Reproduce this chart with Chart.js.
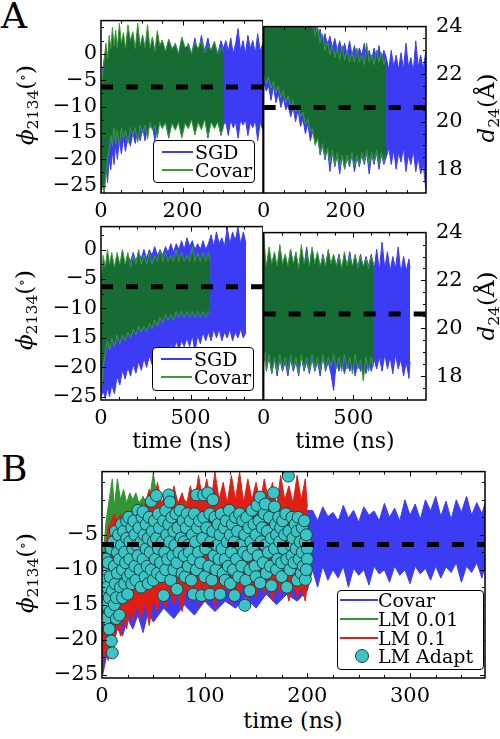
<!DOCTYPE html>
<html>
<head>
<meta charset="utf-8">
<script src="https://cdn.jsdelivr.net/npm/chart.js@4.4.1/dist/chart.umd.min.js"></script>
<style>
    html, body { margin: 0; padding: 0; background: #fff; }
    #fig { position: relative; width: 500px; height: 739px; overflow: hidden; font-family: "DejaVu Serif", serif; color: #000; }
    #fig canvas { position: absolute; }
    .lbl { position: absolute; white-space: nowrap; line-height: 1; }
    .rot { transform: translate(-50%, -50%) rotate(-90deg); }
    .ctr { transform: translate(-50%, -50%); }
    .lbl sub { font-size: 0.68em; vertical-align: -0.3em; }
    .lbl sup { font-size: 0.6em; vertical-align: 0.45em; }
    .legend { position: absolute; background: #fff; border: 1.5px solid #000; border-radius: 4px; box-sizing: border-box; }
    .smp { position: absolute; height: 2px; margin-top: -1px; }
    .ltxt { position: absolute; transform: translateY(-50%); line-height: 1; font-size: 19px; white-space: nowrap; }
    .dot { position: absolute; width: 12px; height: 12px; margin: -7px 0 0 -7px; border-radius: 50%; background: rgb(60,195,195); border: 1px solid rgb(20,70,70); }
</style>
</head>
<body>
<div id="fig">
    <canvas id="atl" width="223" height="219" style="left:40px;top:4px"></canvas>
    <canvas id="atr" width="235" height="219" style="left:251px;top:4px"></canvas>
    <canvas id="abl" width="223" height="220" style="left:40px;top:210px"></canvas>
    <canvas id="abr" width="235" height="220" style="left:251px;top:210px"></canvas>
    <canvas id="bpan" width="455" height="253" style="left:40px;top:455px"></canvas>

    <div class="lbl" style="left:1px;top:-2px;font-size:36px">A</div>
    <div class="lbl" style="left:1px;top:451px;font-size:36px">B</div>

    <div class="lbl rot" style="left:27px;top:105px;font-size:23px"><i>ϕ</i><sub>2134</sub>(<sup>∘</sup>)</div>
    <div class="lbl rot" style="left:26px;top:310px;font-size:23px"><i>ϕ</i><sub>2134</sub>(<sup>∘</sup>)</div>
    <div class="lbl rot" style="left:27px;top:573px;font-size:23px"><i>ϕ</i><sub>2134</sub>(<sup>∘</sup>)</div>
    <div class="lbl rot" style="left:488px;top:108px;font-size:23px"><i>d</i><sub>24</sub>(Å)</div>
    <div class="lbl rot" style="left:488px;top:306px;font-size:23px"><i>d</i><sub>24</sub>(Å)</div>

    <div class="lbl ctr" style="left:182px;top:441px;font-size:22px">time (ns)</div>
    <div class="lbl ctr" style="left:345px;top:441px;font-size:22px">time (ns)</div>
    <div class="lbl ctr" style="left:293px;top:721px;font-size:22px">time (ns)</div>

    <div class="legend" style="left:153px;top:140px;width:102px;height:43px">
        <div class="smp" style="left:8px;top:10.5px;width:31px;background:rgb(60,60,245)"></div>
        <span class="ltxt" style="left:41px;top:10.5px">SGD</span>
        <div class="smp" style="left:8px;top:29px;width:31px;background:rgb(60,155,55)"></div>
        <span class="ltxt" style="left:41px;top:29px">Covar</span>
    </div>
    <div class="legend" style="left:152px;top:347px;width:102px;height:44px">
        <div class="smp" style="left:8px;top:10.5px;width:31px;background:rgb(60,60,245)"></div>
        <span class="ltxt" style="left:41px;top:10.5px">SGD</span>
        <div class="smp" style="left:8px;top:29px;width:31px;background:rgb(60,155,55)"></div>
        <span class="ltxt" style="left:41px;top:29px">Covar</span>
    </div>
    <div class="legend" style="left:337px;top:590px;width:147px;height:80px">
        <div class="smp" style="left:2px;top:9px;width:38px;background:rgb(60,60,245)"></div>
        <span class="ltxt" style="left:40px;top:9px">Covar</span>
        <div class="smp" style="left:2px;top:28px;width:38px;background:rgb(50,150,50)"></div>
        <span class="ltxt" style="left:40px;top:28px">LM 0.01</span>
        <div class="smp" style="left:2px;top:46.5px;width:38px;background:rgb(225,30,20)"></div>
        <span class="ltxt" style="left:40px;top:46.5px">LM 0.1</span>
        <div class="dot" style="left:23.5px;top:64.5px"></div>
        <span class="ltxt" style="left:40px;top:64.5px">LM Adapt</span>
    </div>
</div>
<script>
// ---- panel A, top left: phi vs time ----
const atlCovarTime = [0,4,8,12,16,20,24,28,32,36,40,45,50,55,60,66,72,78,84,90,96,102,108,114,120,126,132,138,144,150,158,166,174,182,190,198,206,214,222,230,238,246,254,262,270,278,286,294,300];
const atlCovarHi = [-12,-4,-1,2,-1,3.5,1,5,1.5,4.5,1, 5.8,2,4,1, 5.5,2.5,4.2,1,5.8,1.5,3.6,1.2,5.5,1,3.2,0.5,4.4,1.6,2.6, 0.5,2.8,1,1.8,0,3.2,1.2,1.6,0,2.2,1,2.6,0.2,1.4,0.8,2.4,0,1.2,0.5];
const atlCovarLo = [-26.5,-25,-26.5,-23,-20,-18,-15.5,-17.5,-14,-17,-14.5, -17.5,-14,-16,-14.5, -17,-14,-15.5,-14,-16.8,-13.5,-15,-13.5,-16.2,-13,-14.5,-13.5,-16,-13,-14.2, -13,-15.8,-13.2,-14.5,-13,-16,-13.2,-14.2,-12.5,-15.4,-13,-14.4,-12.5,-15.6,-13,-14.2,-13,-15.2,-14];
const atlSgdTime = [0,4,8,12,16,20,24,28,32,36,40,45,50,55,60,66,72,78,84,90,96,102,108,114,120,126,132,138,144,150,158,166,174,182,190,198,206,214,222,230,238,246,254,262,270,278,286,294,300,306,312,318,324,330,336,342,348,354,360,366,372,378,384,390,397];
const atlSgdHi = [-7,-3,-1,1,-1,2,0,3,0.5,3,0, 3.5,1,3,0.5, 4,1,3,0.5,4,1,3,0.5,3.5,0.5,3,0,3,0.5,2.5, 0,2.5,0,2,0,2.5,0,2,0,3,0,3.5,0.5,3,0,2,0,2.5,1, 2.5,0.5,3,0,2,4.8,0.5,2.5,0,3.5,1,2.5,0,3.8,0.5,2];
const atlSgdLo = [-24,-22,-25.5,-21,-24.5,-20,-22,-18.5,-21,-17,-20, -16.5,-19,-16,-18.5, -15.5,-17.5,-15,-17,-14.5,-16.5,-14,-16.5,-13.5,-14,-13.5,-16.5,-13.5,-13,-14, -13,-16,-12.5,-13.5,-12.5,-15.5,-12.5,-13,-12,-14.5,-12.5,-13,-12,-16,-12.5,-13,-12.5,-15.5,-13.5, -13,-15.5,-12.5,-14,-13,-16,-12.5,-13.5,-12.5,-15.5,-13,-14,-12.5,-16.5,-13,-14.5];
const atlMean = -6.3;

// ---- panel A, top right: d24 vs time ----
const atrCovarTime = [0,6,12,18,24,30,36,42,48,54,60,66,72,78,84,90,96,102,108,114,120,126,132,138,144,150,156,162,168,174,180,186,192,198,204,210,216,222,228,234,240,246,252,258,264,270,276,282,288,294,300];
const atrCovarHi = [24.5,24.5,24.5,24.5,24.5,24.5,24.5,24.5,24.5,24.5,24.5,24.5,24.5,24.5,24.5,24.5,24.5,24.5,24.5,24.5, 24.2,23.6,24.0,23.3,23.7,23.0,23.4,22.8,23.2,22.7,23.1,22.6,23.2,22.6,23.0,22.5,22.9,22.5,23.1,22.5,22.8,22.4,23.3,22.5,22.8,22.4,23.0,22.5,22.9,22.4,22.7];
const atrCovarLo = [22.0,21.6,21.9,21.4,21.7,21.2,21.5,21.0,21.3,20.8,21.1,20.6,20.9,20.4,20.7,20.2,20.4,19.9,20.1,19.6, 19.7,19.0,19.3,18.7,19.1,18.5,18.9,18.3,18.8,18.2,18.7,18.1,18.6,18.0,18.6,18.2,18.7,18.1,18.6,18.2,18.7,18.3,18.8,18.2,18.7,18.3,18.8,18.2,18.7,18.3,18.6];
const atrSgdTime = [0,6,12,18,24,30,36,42,48,54,60,66,72,78,84,90,96,102,108,114,120,126,132,138,144,150,156,162,168,174,180,186,192,198,204,210,216,222,228,234,240,246,252,258,264,270,276,282,288,294,300,306,312,318,324,330,336,342,348,354,360,366,372,378,384,390,397];
const atrSgdHi = [24.5,24.5,24.5,24.5,24.5,24.5,24.5,24.5,24.5,24.5,24.5,24.5,24.5,24.5,24.5,24.5,24.5,24.5,24.5,24.5, 23.8,24.2,23.5,23.9,23.3,23.7,23.2,23.6,23.1,23.5,23.0,23.4,22.9,23.3,22.8,23.4,22.8,23.2,22.7,23.1,22.8,23.3,22.7,23.0,22.6,23.1,22.7,23.2,22.6,23.0,22.7, 22.2,23.0,22.3,22.8,22.2,22.9,22.2,23.3,22.3,22.7,22.1,23.4,22.3,22.8,22.2,23.0];
const atrSgdLo = [21.7,21.3,21.5,20.9,21.5,20.8,21.2,20.6,21.0,20.5,20.7,20.2,20.6,20.0,20.5,19.8,20.1,19.5,19.9,19.2, 19.6,19.1,19.4,18.6,19.0,18.4,18.9,17.9,18.7,18.1,18.6,17.8,18.6,18.0,18.5,18.1,18.6,17.9,18.5,18.1,18.6,18.2,18.7,17.8,18.6,18.2,18.7,18.0,18.6,18.2,18.5, 18.9,18.2,18.8,18.0,18.7,18.3,18.9,17.9,18.6,18.2,18.8,17.9,18.5,17.8,18.2,17.1];
const atrMean = 20.6;

// ---- panel A, bottom left: phi vs time ----
const ablCovarTime = [0,12,24,36,48,60,75,90,105,120,135,150,165,180,195,210,225,240,255,270,285,300,315,330,345,360,375,390,405,420,435,450,465,480,495,510,525,540,555,570,585,600,611];
const ablCovarHi = [-6,-1,-3,0,-2.5,-0.5, -3,-0.5,-2.5,0,-2.5,-0.5,-3,-1,-2.5,0, -2.5,-1,-2.5,-0.5,-2.5,-1,-2,0,-2,-0.5, -2,-1,-2,0,-2,-0.5,-2,-1,-2,0.5, -2,-0.5,-2,-0.5,-2,-0.5, -2];
const ablCovarLo = [-25,-20,-17.5,-15.5,-17,-15, -16.5,-14.5,-16,-14.5,-15.5,-14,-15,-13.5,-14.5,-13, -14,-13,-14,-12.5,-13.5,-12,-13,-11.5,-12.5,-11, -12,-11,-12,-10.5,-11.5,-10.5,-11.5,-10.5,-11.5,-10.5, -11.5,-10.5,-11.5,-10.5,-11.5,-10.5, -11];
const ablSgdTime = [0,12,24,36,48,60,75,90,105,120,135,150,165,180,195,210,225,240,255,270,285,300,315,330,345,360,375,390,405,420,435,450,465,480,495,510,525,540,555,570,585,600,615,630,645,660,675,690,705,720,735,750,765,780,795,810];
const ablSgdHi = [-8,-3,-4,-2,-3.5,-2, -3.5,-1.5,-3,-1.5,-3,-1,-2,-0.5,-2,-0.5, -1.5,0,-1.5,0,-1,0.5,-1,0,-1,0.5, -0.5,1,-0.5,1,0,1.5,0,2,0.5,1.5, 0,1,0,1.5,0,1,2.5,0.5,3,1, 2,0.5,3.8,1,3,1.5,3.8,1,3,1];
const ablSgdLo = [-25,-24,-25.3,-23.5,-25,-23, -24.5,-21.5,-23,-20.5,-22,-20,-21.5,-19.5,-21,-19, -20.5,-18.5,-20,-18,-19.5,-17.5,-19,-17,-18.5,-16.5, -18,-16,-17.5,-15.5,-17,-15.5,-16.5,-15,-16.5,-14.5, -17.5,-14.5,-16,-14,-15.5,-14,-15.5,-13.5,-15,-13.5, -15.5,-14,-15,-13.5,-15.5,-14,-15,-13.5,-15,-14];
const ablMean = -6.3;

// ---- panel A, bottom right: d24 vs time ----
const abrCovarTime = [0,8,15,30,45,60,75,90,105,120,135,150,165,180,195,210,225,240,255,270,285,300,315,330,345,360,375,390,405,420,435,450,465,480,495,510,525,540,555,570,585,600,613];
const abrCovarHi = [24.1,23.0, 22.6,23.4,22.7,23.2,22.6,23.5,22.7,23.1,22.6,23.3, 22.7,23.2,22.5,23.5,22.7,23.1,22.6,23.4,22.7,23.2, 22.6,23.0,22.6,23.3,22.7,23.1,22.6,23.0,22.5,23.2, 22.6,23.0,22.6,23.1,22.5,23.0,22.6,22.9,22.5,23.0, 22.7];
const abrCovarLo = [18.5,19.0, 18.3,18.9,18.1,18.8,18.2,18.9,18.3,18.8,18.2,18.9, 18.3,18.8,18.1,18.9,18.3,18.8,18.2,18.9,18.3,18.8, 18.2,18.9,18.3,18.8,18.4,18.9,18.3,18.8,18.2,18.9, 18.3,18.8,18.1,18.9,18.3,18.7,17.8,18.8,18.2,18.8, 18.4];
const abrSgdTime = [0,8,15,30,45,60,75,90,105,120,135,150,165,180,195,210,225,240,255,270,285,300,315,330,345,360,375,390,405,420,435,450,465,480,495,510,525,540,555,570,585,600,615,630,645,660,675,690,705,720,735,750,765,780,795,810,816];
const abrSgdHi = [23.5,23.0, 22.5,23.2,22.6,23.0,22.5,23.2,22.6,23.0,22.5,23.3, 22.6,23.0,22.5,23.2,22.6,23.4,22.5,23.3,22.6,23.0, 22.5,23.1,22.6,23.2,22.5,23.0,22.6,23.1,22.5,23.0, 22.6,23.2,22.5,23.0,22.6,23.1,22.5,23.0,22.6,23.1, 22.4,23.3,22.4,23.6,22.5,23.2,22.4,23.0,22.5,23.4, 22.3,23.0,22.4,22.9, 22.5];
const abrSgdLo = [18.6,18.9, 18.2,18.8,18.1,18.7,18.0,18.7,18.2,18.6,18.0,18.7, 18.2,18.6,18.0,18.8,18.2,18.6,18.1,18.7,18.2,18.6, 18.0,18.8,18.2,18.6,18.1,17.4,18.6,18.2,18.7,18.1, 18.6,18.2,18.7,18.0,18.6,18.2,18.7,18.1,18.6,18.2, 18.7,18.3,18.8,18.2,18.9,18.3,18.8,18.1,18.9,18.3, 18.7,18.0,18.6,17.9, 18.6];
const abrMean = 20.6;

// ---- panel B: phi vs time ----
const bCovarTime = [0,5,10,15,20,25,30,35,40,45,50,60,70,80,90,100,110,120,130,140,150,160,170,180,190,200, 205,210,215,220,225,230,235,240,245,250,255,260,265,270,275,280,285,290,295,300,305,310,315,320,325,330,335,340,345,350,355,360,365,370,373];
const bCovarHi = [-12,-6,-4,-2,-3,-1,-2,-1,-2,-1,-2, -1,-2,-1,-2,-1,-2,-1,-2,-1,-2, -1,-2,-1,-2,-1.5, -1.5,-3,-1,-2.4,-1.8,-3,-0.8,-2.6,-1.5,-3.2, -1,-2.2,-1.6,-3,-0.5,-2.5,-1.2,-3,0,-2.2, -0.6,-2.8,0,-1.6,0.5,-2.4,-0.2,-2.8,0,-1.8, 0.5,-2.2,-0.4,-2, -0.5];
const bCovarLo = [-25.5,-22,-21,-18.5,-19.5,-17,-18.5,-16.5,-19,-16,-17.5, -15.5,-17,-15,-16.5,-14.5,-16,-14.5,-15.5,-14,-15.5, -13.5,-15,-13.5,-14.5,-13, -10,-12.5,-9.5,-11.5,-10,-11.2,-9.5,-12.5,-9.8,-10.8, -10,-12.2,-9.5,-10.6,-10,-11.8,-9.5,-10.8,-10,-12, -9.5,-10.6,-9.8,-11.5,-9.5,-11.2,-9.6,-10.4,-9,-11.8, -9.5,-10.4,-9,-11.2, -9.5];
const bLm001Time = [0,4,8,10,12,15,18,21,24,27,30,33,36,40,45,50,55,60,70,80,90,100,110,120,130,140,150,160,170,180,190,200];
const bLm001Hi = [-10,-3,1,3,-1,3,0,1.5,-0.5,1, 0,1,-0.5,0.5,-1,3.8,-1,0,-1,0, -1,1,-1,0,-1,0,-1,0,-1,0, -1,-1];
const bLm001Lo = [-24,-20,-17,-16,-15,-14,-13.5,-13,-12.5,-12.5, -12,-12,-11.5,-11.5,-11,-11,-11,-10.5,-10.5,-10.5, -10,-10,-10,-10,-10,-10,-10,-10,-10,-10, -10,-10];
const bLm01Time = [0,3,6,9,12,15,18,21,24,27,30,34,38,42,46,50,54,58,62,66,70,74,78,82,86,90,94,98,102,106,110,114,118,122,126,130,134,138,142,146,150,154,158,162,166,170,174,178,182,186,190,194,198,200];
const bLm01Hi = [-14,-8,-4,-3,-2,-3,-2,-3,-1.5,-3,-2, -1,-2.5,-0.5,1.5,-1,2.5,-0.5,1,-1,2, -0.5,1,-1,2,-0.5,3.5,0,3,-0.5,4, 0,2.5,-0.5,3.5,0,4,-0.5,3,0,2.5, -0.5,3,0,2.5,-1,3.5,0,2,-0.5,3.5, 0,3, -1];
const bLm01Lo = [-25,-21,-23,-19,-21,-17.5,-19.5,-16.5,-18.5,-15.5,-17.5, -15,-17,-14.5,-18,-14,-16,-13.5,-15.5,-13,-15, -13,-16,-12.5,-14.5,-12.5,-15,-12,-14.5,-12,-15.5, -12,-14,-12,-15,-12,-14,-11.5,-14.5,-12,-14, -11.5,-13.5,-12,-14.5,-12,-13.5,-12,-14.5,-12,-14, -12.5,-14.5, -12];
const bAdaptTime = [1,2,3,3,4,5,4,
    6,7,7,8,8,9,10,9,10,
    11,12,12,13,13,14,15,15,14,
    16,17,17,18,19,19,20,20,
    21,22,22,23,24,24,25,25,
    26,27,27,28,29,29,30,
    31,32,32,33,34,35,35,
    36,37,38,38,39,40,40,
    41,42,43,43,44,45,45,
    46,47,48,48,49,50,50,
    51,52,53,53,54,55,55,
    56,57,58,59,60,60,
    61,62,62,63,64,65,65,
    66,66,67,68,69,70,70,
    71,72,73,73,74,75,
    76,77,78,79,80,80,
    81,82,83,84,84,85,
    86,87,88,89,89,90,
    91,92,92,93,94,95,
    96,97,98,99,99,100,
    101,102,103,104,105,105,
    106,107,108,108,109,110,
    111,112,113,114,115,115,
    116,117,118,119,120,120,
    121,122,123,124,125,125,
    126,127,128,129,129,130,
    131,132,133,134,135,
    136,137,138,139,139,140,
    141,142,143,144,144,145,
    146,147,148,149,150,150,
    151,152,153,154,154,155,
    156,157,158,159,159,160,
    161,162,163,164,165,165,
    167,168,168,169,170,170,
    171,172,173,174,175,175,
    176,177,178,179,180,180,
    181.5,182,183,184,185,185,
    186,187,188,189,190,190,
    191,192,193,194,195,195,
    196,197,198,198,199,200,200,199];
const bAdaptPhi = [-13,-10.5,-11.5,-15,-8.5,-12.5,-17,
    -9,-14,-18.5,-11,-16,-20.2,-21.9,-7,-13,
    -6,-9.5,-15,-12,-4.5,-17,-7.5,-10.5,-14,
    -5,-8.5,-16.5,-12.5,-3.5,-6.5,-10,-14,
    -4.5,-7.5,-12,-9,-3,-5.5,-11,-13.5,
    -2.5,-6,-8.5,-10.5,-4,-12,-7,
    -3,-9.5,-5,-11.5,-6.5,-1.5,-8,
    -4,-10,-6,-12.5,-2.5,-1.7,-8.5,
    -5,-11,-3.5,-7,-9.5,-5.5,-12,
    -2.5,-7.5,-0.2,-10,-4.5,-6,-11.5,
    -3,-8.5,0.6,-5.5,-10.5,-2,-7,
    -4,-9,-11,-6,-13.7,-3,
    -7.5,-1.5,-10,-5,-8.5,0.7,-3.5,
    -0.3,-6,-11.5,-2.5,-8,-4.5,-10,
    -6.5,-2,-12.8,-9,-4,-7.5,
    -1.5,-5.5,-10.5,-3,-8,-6,
    -11,-4,-2,-9.5,-6.5,-7.5,
    -3,-11.5,-5,-13.5,-8.5,-2,
    -6,0.7,-10,-4,-7.5,-3,
    -9,-13.7,-5.5,0.7,-2.5,-11,
    -7,-4,1,-9.5,-13.5,-2,
    -6,-11.5,0,-4.5,-8,-2.5,
    -10,-6.5,-3.5,-8.5,-13.5,-5,
    -2,-7,-10.5,-4,-11.5,-8.5,
    -3,-6,-9.5,-1.5,-5,-12,
    -7.5,-3.5,-10,-13.7,-6,-2.5,
    -8.5,-4.5,-11,-2,-6.5,
    -9.5,-3,-7.5,-15.1,-5,-11.5,
    -2.5,-8,-4,-13,-10,-6,
    -1.5,-7,-3.5,-9.5,-5,-11,
    -0.8,-8,-3,0.4,-11.9,-6,
    -4,-9,-2,-0.6,-6.5,-10.5,
    -4.5,-7.5,-2.5,-9.5,-12.3,-5.5,
    1,-1,-7,-3.5,-10,-5,
    -8.5,-2.5,-6,-4,-11,-9,
    -3,-7,-5,-2,-12.5,-8.5,
    3.4,-4.5,-10,-6.5,-2.5,-8,
    -5.5,-9,-3.5,-7,-11.5,-4.5,
    -2.5,-8.5,-6,-10.5,-4,-7.5,
    -9.5,-3,-11.4,-6,-5,-7,-8.5,-10];
const bMean = -6.4;

// axis ranges and ticks
const aTopRange = [0, 397];
const aBotRange = [0, 905];
const bRange = [0, 373];
const aTopPhiRange = [-26.4, 6.3];
const aBotPhiRange = [-25.55, 3.9];
const bPhiRange = [-25.5, 4.04];
const dRange = [17, 24];

const aTopXLabels = [0, 200];
const aTopXMinor = [50, 100, 150, 250, 300, 350];
const aBotXLabels = [0, 500];
const aBotXMinor = [100, 200, 300, 400, 600, 700, 800, 900];
const bXLabels = [0, 100, 200, 300];
const bXMinor = [25, 50, 75, 125, 150, 175, 225, 250, 275, 325, 350];
const phiLabels = [-25, -20, -15, -10, -5, 0];
const phiMinor = [-22.5, -17.5, -12.5, -7.5, -2.5, 2.5, 5];
const bPhiLabels = [-25, -20, -15, -10, -5];
const bPhiMinor = [-22.5, -17.5, -12.5, -7.5, -2.5, 0, 2.5];
const dLabels = [18, 20, 22, 24];
const dMinor = [17.5, 18.5, 19, 19.5, 20.5, 21, 21.5, 22.5, 23, 23.5];

const BLUE = 'rgb(60,60,245)';
const GREEN_FILL = 'rgb(22,108,50)';
const GREEN_EDGE = 'rgb(60,155,55)';
const GREEN_B = 'rgb(50,150,50)';
const RED = 'rgb(225,30,20)';
const CYAN = 'rgb(60,195,195)';

Chart.defaults.font.family = '"DejaVu Serif", serif';
Chart.defaults.color = '#000';

function pts(ts, vs) {
    return ts.map((t, i) => ({ x: t, y: vs[i] }));
}

// lower edge + upper edge filled down to it
function band(ts, lo, hi, fillColor, edgeColor, order) {
    return [
        { data: pts(ts, lo), borderColor: edgeColor, borderWidth: 1, pointRadius: 0, fill: false, order: order, clip: 0 },
        { data: pts(ts, hi), borderColor: edgeColor, borderWidth: 1, pointRadius: 0, fill: '-1', backgroundColor: fillColor, order: order, clip: 0 }
    ];
}

function meanLine(range, v) {
    return {
        data: [{ x: range[0], y: v }, { x: range[1], y: v }],
        borderColor: '#000', borderWidth: 5, borderDash: [12, 13], borderCapStyle: 'butt',
        pointRadius: 0, fill: false, order: 1, clip: 0
    };
}

function fmt(v) {
    return v < 0 ? '\u2212' + Math.abs(v) : String(v);
}

// frame around the plot area plus inward tick marks, like the original
const frameTicks = {
    id: 'frameTicks',
    afterDraw(chart, args, o) {
        const ctx = chart.ctx;
        const a = chart.chartArea;
        const xs = chart.scales.x, ys = chart.scales.y;
        ctx.save();
        ctx.strokeStyle = '#000';
        ctx.lineWidth = 1;
        ctx.beginPath();
        const xMark = (v, len) => {
            const p = Math.round(xs.getPixelForValue(v)) + 0.5;
            if (p <= a.left + 1 || p >= a.right - 1) return;
            ctx.moveTo(p, a.bottom); ctx.lineTo(p, a.bottom - len);
            ctx.moveTo(p, a.top); ctx.lineTo(p, a.top + len);
        };
        const yMark = (v, len) => {
            const p = Math.round(ys.getPixelForValue(v)) + 0.5;
            if (p <= a.top + 1 || p >= a.bottom - 1) return;
            o.ySides.forEach(side => {
                if (side === 'left') { ctx.moveTo(a.left, p); ctx.lineTo(a.left + len, p); }
                else { ctx.moveTo(a.right, p); ctx.lineTo(a.right - len, p); }
            });
        };
        o.xMajor.forEach(v => xMark(v, 5));
        o.xMinor.forEach(v => xMark(v, 3));
        o.yMajor.forEach(v => yMark(v, 5));
        o.yMinor.forEach(v => yMark(v, 3));
        ctx.stroke();
        ctx.lineWidth = 1.5;
        ctx.strokeRect(a.left, a.top, a.right - a.left, a.bottom - a.top);
        ctx.restore();
    }
};

function xAxis(range, labels) {
    return {
        type: 'linear', min: range[0], max: range[1],
        grid: { display: false, drawTicks: false },
        border: { display: false },
        afterBuildTicks: s => { s.ticks = labels.map(v => ({ value: v })); },
        afterFit: s => { s.height = 30; },
        ticks: { autoSkip: false, maxRotation: 0, padding: 6, font: { size: 21 }, callback: v => fmt(v) }
    };
}

function yAxis(range, labels, side, width, pad) {
    return {
        type: 'linear', position: side, min: range[0], max: range[1],
        grid: { display: false, drawTicks: false },
        border: { display: false },
        afterBuildTicks: s => { s.ticks = labels.map(v => ({ value: v })); },
        afterFit: s => { s.width = width; },
        ticks: { autoSkip: false, padding: pad, font: { size: 21 }, callback: v => fmt(v) }
    };
}

function panel(id, datasets, x, y, pad, marks) {
    return new Chart(document.getElementById(id), {
        type: 'line',
        data: { datasets: datasets },
        options: {
            responsive: false,
            animation: false,
            devicePixelRatio: 1,
            events: [],
            layout: { padding: pad },
            plugins: { legend: { display: false }, tooltip: { enabled: false }, frameTicks: marks },
            scales: { x: x, y: y }
        },
        plugins: [frameTicks]
    });
}

// A top left
panel('atl', [
    meanLine(aTopRange, atlMean),
    ...band(atlCovarTime, atlCovarLo, atlCovarHi, GREEN_FILL, GREEN_EDGE, 40),
    ...band(atlSgdTime, atlSgdLo, atlSgdHi, BLUE, BLUE, 50)
], xAxis(aTopRange, aTopXLabels), yAxis(aTopPhiRange, phiLabels, 'left', 61, 4),
    { top: 14, left: 0, right: 0, bottom: 0 },
    { xMajor: aTopXLabels, xMinor: aTopXMinor, yMajor: phiLabels, yMinor: phiMinor, ySides: ['left'] });

// A top right
panel('atr', [
    meanLine(aTopRange, atrMean),
    ...band(atrCovarTime, atrCovarLo, atrCovarHi, GREEN_FILL, GREEN_EDGE, 40),
    ...band(atrSgdTime, atrSgdLo, atrSgdHi, BLUE, BLUE, 50)
], xAxis(aTopRange, aTopXLabels), yAxis(dRange, dLabels, 'right', 60, 10),
    { top: 14, left: 12, right: 0, bottom: 0 },
    { xMajor: aTopXLabels, xMinor: aTopXMinor, yMajor: dLabels, yMinor: dMinor, ySides: ['right'] });

// A bottom left
panel('abl', [
    meanLine(aBotRange, ablMean),
    ...band(ablCovarTime, ablCovarLo, ablCovarHi, GREEN_FILL, GREEN_EDGE, 40),
    ...band(ablSgdTime, ablSgdLo, ablSgdHi, BLUE, BLUE, 50)
], xAxis(aBotRange, aBotXLabels), yAxis(aBotPhiRange, phiLabels, 'left', 61, 4),
    { top: 14, left: 0, right: 0, bottom: 0 },
    { xMajor: aBotXLabels, xMinor: aBotXMinor, yMajor: phiLabels, yMinor: phiMinor, ySides: ['left'] });

// A bottom right
panel('abr', [
    meanLine(aBotRange, abrMean),
    ...band(abrCovarTime, abrCovarLo, abrCovarHi, GREEN_FILL, GREEN_EDGE, 40),
    ...band(abrSgdTime, abrSgdLo, abrSgdHi, BLUE, BLUE, 50)
], xAxis(aBotRange, aBotXLabels), yAxis(dRange, dLabels, 'right', 60, 10),
    { top: 14, left: 12, right: 0, bottom: 0 },
    { xMajor: aBotXLabels, xMinor: aBotXMinor, yMajor: dLabels, yMinor: dMinor, ySides: ['right'] });

// B
panel('bpan', [
    meanLine(bRange, bMean),
    {
        data: pts(bAdaptTime, bAdaptPhi), showLine: false, pointRadius: 6,
        pointBackgroundColor: CYAN, pointBorderColor: 'rgb(20,70,70)', pointBorderWidth: 1,
        order: 20, clip: 0
    },
    ...band(bLm01Time, bLm01Lo, bLm01Hi, RED, RED, 30),
    ...band(bLm001Time, bLm001Lo, bLm001Hi, GREEN_B, GREEN_B, 40),
    ...band(bCovarTime, bCovarLo, bCovarHi, BLUE, BLUE, 50)
], xAxis(bRange, bXLabels), yAxis(bPhiRange, bPhiLabels, 'left', 62, 4),
    { top: 14, left: 0, right: 10, bottom: 0 },
    { xMajor: bXLabels, xMinor: bXMinor, yMajor: bPhiLabels, yMinor: bPhiMinor, ySides: ['left', 'right'] });
</script>
</body>
</html>
